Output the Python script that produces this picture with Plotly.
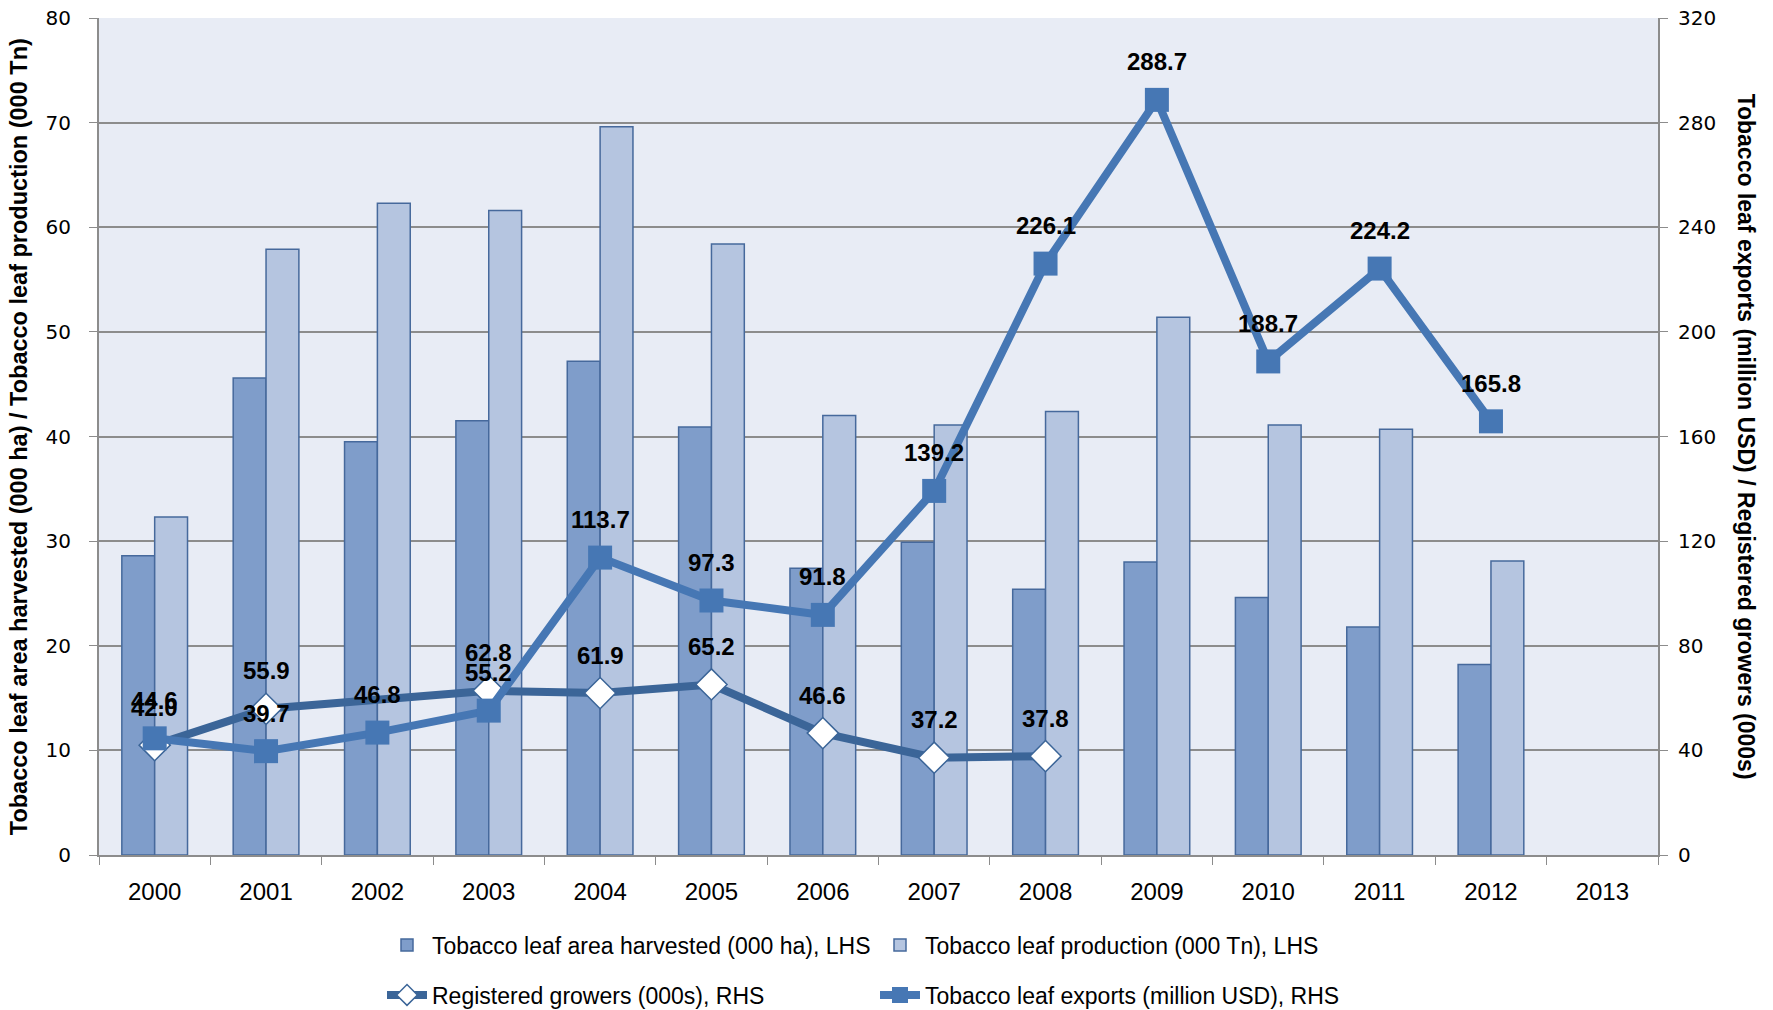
import plotly.graph_objects as go

years = ["2000", "2001", "2002", "2003", "2004", "2005", "2006",
         "2007", "2008", "2009", "2010", "2011", "2012", "2013"]

# Left-hand scale
area_harvested = [28.6, 45.6, 39.5, 41.5, 47.2, 40.9, 27.4,
                  29.9, 25.4, 28.0, 24.6, 21.8, 18.2, None]
leaf_production = [32.3, 57.9, 62.3, 61.6, 69.6, 58.4, 42.0,
                   41.1, 42.4, 51.4, 41.1, 40.7, 28.1, None]

# Right-hand scale
registered_growers = [42.0, 55.9, None, 62.8, 61.9, 65.2, 46.6,
                      37.2, 37.8, None, None, None, None, None]
leaf_exports = [44.6, 39.7, 46.8, 55.2, 113.7, 97.3, 91.8,
                139.2, 226.1, 288.7, 188.7, 224.2, 165.8, None]

left_ticks = [0, 10, 20, 30, 40, 50, 60, 70, 80]
right_ticks = [0, 40, 80, 120, 160, 200, 240, 280, 320]

TEXT_FONT = "Liberation Sans, Arial, sans-serif"
TICK_FONT = "DejaVu Sans, Verdana, sans-serif"
GRID = "#8c8c8c"
BAR_EDGE = "#46699c"

fig = go.Figure()

fig.add_trace(go.Bar(
    x=years, y=area_harvested,
    name="Tobacco leaf area harvested (000 ha), LHS",
    marker=dict(color="#7f9dca", line=dict(color=BAR_EDGE, width=1.5)),
    yaxis="y", legend="legend",
))
fig.add_trace(go.Bar(
    x=years, y=leaf_production,
    name="Tobacco leaf production (000 Tn), LHS",
    marker=dict(color="#b5c5e0", line=dict(color=BAR_EDGE, width=1.5)),
    yaxis="y", legend="legend",
))
fig.add_trace(go.Scatter(
    x=years, y=registered_growers,
    name="Registered growers (000s), RHS",
    mode="lines+markers", connectgaps=True,
    line=dict(color="#3b6598", width=8),
    marker=dict(symbol="diamond", size=24, color="white",
                line=dict(color="#3b6598", width=1.5)),
    yaxis="y2", legend="legend2",
))
fig.add_trace(go.Scatter(
    x=years, y=leaf_exports,
    name="Tobacco leaf exports (million USD), RHS",
    mode="lines+markers",
    line=dict(color="#4677b4", width=8),
    marker=dict(symbol="square", size=24, color="#4677b4"),
    yaxis="y2", legend="legend2",
))

# Value labels above the line markers (x given as category index)
annotations = []
for series in (registered_growers, leaf_exports):
    for i, v in enumerate(series):
        if v is None:
            continue
        annotations.append(dict(
            x=i, y=v, xref="x", yref="y2", yshift=38,
            xanchor="center", yanchor="middle",
            text=f"{v:.1f}", showarrow=False,
            font=dict(family=TEXT_FONT, size=24, color="black", weight="bold"),
        ))

# Axis titles
annotations.append(dict(
    x=-0.0515, y=0.5, xref="paper", yref="paper", textangle=-90,
    xanchor="center", yanchor="middle",
    text="Tobacco leaf area harvested (000 ha) / Tobacco leaf production (000 Tn)",
    showarrow=False,
    font=dict(family=TEXT_FONT, size=23.5, color="black", weight="bold"),
))
annotations.append(dict(
    x=1.057, y=0.5, xref="paper", yref="paper", textangle=90,
    xanchor="center", yanchor="middle",
    text="Tobacco leaf exports (million USD) / Registered growers (000s)",
    showarrow=False,
    font=dict(family=TEXT_FONT, size=23, color="black", weight="bold"),
))

legend_common = dict(
    orientation="h", xref="container", yref="container",
    xanchor="left", yanchor="middle",
    entrywidthmode="pixels", entrywidth=438,
    font=dict(family=TEXT_FONT, size=23, color="black"),
    bgcolor="rgba(0,0,0,0)", itemwidth=40,
)

fig.update_layout(
    width=1773, height=1010,
    margin=dict(l=99, r=115, t=18, b=155, autoexpand=False),
    paper_bgcolor="white", plot_bgcolor="#e8ecf5",
    barmode="group", bargap=0.41, bargroupgap=0,
    showlegend=True,
    legend=dict(x=382 / 1773, y=1 - 945 / 1010, **legend_common),
    legend2=dict(x=382 / 1773, y=1 - 995 / 1010, **legend_common),
    annotations=annotations,
    xaxis=dict(
        type="category", categoryorder="array", categoryarray=years,
        range=[-0.5, len(years) - 0.5], automargin=False,
        tickson="boundaries", ticks="outside", ticklen=8, tickcolor=GRID,
        showline=True, linecolor=GRID, linewidth=2, tickangle=0,
        showgrid=False, ticklabelstandoff=14,
        tickfont=dict(family=TEXT_FONT, size=24, color="black"),
    ),
    yaxis=dict(
        range=[0, 80], tickvals=left_ticks, ticks="outside", ticklen=8,
        tickcolor=GRID, showline=True, linecolor=GRID, linewidth=2,
        showgrid=True, gridcolor=GRID, gridwidth=1.5, zeroline=False,
        ticklabelstandoff=14, automargin=False,
        tickfont=dict(family=TICK_FONT, size=20, color="black"),
    ),
    yaxis2=dict(
        range=[0, 320], tickvals=right_ticks, overlaying="y", side="right",
        ticks="outside", ticklen=8, tickcolor=GRID,
        showline=True, linecolor=GRID, linewidth=2, automargin=False,
        showgrid=False, zeroline=False, ticklabelstandoff=6,
        tickfont=dict(family=TICK_FONT, size=20, color="black"),
    ),
)

fig.write_html("out.html")
